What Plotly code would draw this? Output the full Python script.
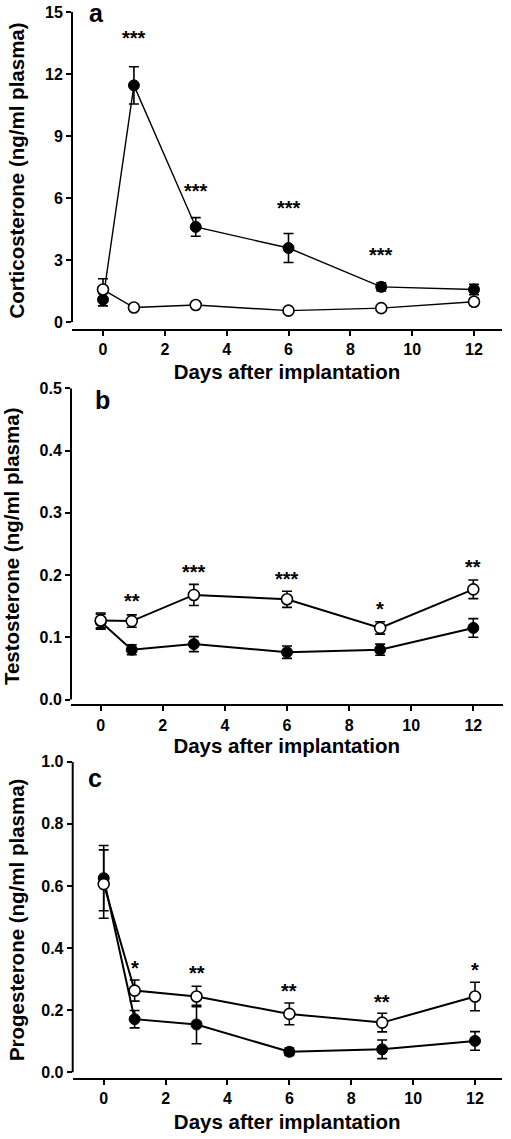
import plotly.graph_objects as go

# ---------------- data ----------------
days = [0, 1, 3, 6, 9, 12]

cort_treated = [1.08, 11.45, 4.6, 3.58, 1.7, 1.57]
cort_treated_err = [0.3, 0.9, 0.45, 0.7, 0.2, 0.25]
cort_control = [1.57, 0.7, 0.82, 0.55, 0.67, 0.98]
cort_control_err = [0.52, 0.08, 0.1, 0.08, 0.08, 0.15]
cort_sig_days = [1, 3, 6, 9]
cort_sig_labels = ["***", "***", "***", "***"]
cort_sig_y = [13.9, 6.5, 5.65, 3.4]

testo_treated = [0.125, 0.080, 0.089, 0.076, 0.080, 0.115]
testo_treated_err = [0.012, 0.008, 0.012, 0.010, 0.009, 0.015]
testo_control = [0.127, 0.126, 0.168, 0.161, 0.115, 0.177]
testo_control_err = [0.012, 0.010, 0.017, 0.013, 0.010, 0.015]
testo_sig_days = [1, 3, 6, 9, 12]
testo_sig_labels = ["**", "***", "***", "*", "**"]
testo_sig_y = [0.163, 0.21, 0.1985, 0.151, 0.218]

prog_treated = [0.625, 0.171, 0.154, 0.066, 0.074, 0.101]
prog_treated_err = [0.105, 0.028, 0.062, 0.012, 0.030, 0.030]
prog_control = [0.606, 0.263, 0.244, 0.188, 0.160, 0.244]
prog_control_err = [0.110, 0.034, 0.033, 0.035, 0.030, 0.046]
prog_sig_days = [1, 3, 6, 9, 12]
prog_sig_labels = ["*", "**", "**", "**", "*"]
prog_sig_y = [0.344, 0.329, 0.271, 0.237, 0.338]

x_ticks = [0, 2, 4, 6, 8, 10, 12]
x_title = "Days after implantation"

panels = [
    dict(letter="a", ytitle="Corticosterone (ng/ml plasma)",
         treated=cort_treated, treated_err=cort_treated_err,
         control=cort_control, control_err=cort_control_err,
         sig_days=cort_sig_days, sig_labels=cort_sig_labels, sig_y=cort_sig_y,
         ytop=15, ytick=3, yfmt="d"),
    dict(letter="b", ytitle="Testosterone (ng/ml plasma)",
         treated=testo_treated, treated_err=testo_treated_err,
         control=testo_control, control_err=testo_control_err,
         sig_days=testo_sig_days, sig_labels=testo_sig_labels, sig_y=testo_sig_y,
         ytop=0.5, ytick=0.1, yfmt=".1f"),
    dict(letter="c", ytitle="Progesterone (ng/ml plasma)",
         treated=prog_treated, treated_err=prog_treated_err,
         control=prog_control, control_err=prog_control_err,
         sig_days=prog_sig_days, sig_labels=prog_sig_labels, sig_y=prog_sig_y,
         ytop=1.0, ytick=0.2, yfmt=".1f"),
]

# ---------------- layout geometry (pixels) ----------------
W, H = 511, 1139
geom = [
    dict(left=72, right=502, x0=103, x12=474, top=12, zero=322, xline=329, lw=1.4,
         lab=(96, 12), ystand=14, xstand=7),
    dict(left=71, right=502.5, x0=100.7, x12=473.3, top=388.3, zero=699.5, xline=704.3, lw=2.0,
         lab=(102, 401.5), ystand=14, xstand=6),
    dict(left=72.7, right=501.7, x0=103.7, x12=475, top=761.7, zero=1072.3, xline=1078, lw=2.0,
         lab=(95, 780), ystand=11, xstand=8),
]

FONT = "Liberation Sans, Arial, Helvetica, sans-serif"
BOLD = dict(family=FONT, color="black", weight="bold")
TICK_SIZE = 16
TITLE_SIZE = 20.5
STAR_SIZE = 20
LETTER_SIZE = 25

fig = go.Figure()
layout = dict(
    template="none",
    width=W, height=H, margin=dict(l=0, r=0, t=0, b=0, autoexpand=False),
    paper_bgcolor="white", plot_bgcolor="white", showlegend=False,
    font=dict(family=FONT, color="black"),
)
annotations = []
shapes = []

for i, (p, g) in enumerate(zip(panels, geom)):
    n = "" if i == 0 else str(i + 1)
    xa, ya = "x" + n, "y" + n
    sx = (g["x12"] - g["x0"]) / 12.0
    xr = [(g["left"] - g["x0"]) / sx, (g["right"] - g["x0"]) / sx]
    sy = (g["zero"] - g["top"]) / p["ytop"]
    yr = [-(g["xline"] - g["zero"]) / sy, p["ytop"]]
    layout["xaxis" + n] = dict(
        domain=[g["left"] / W, g["right"] / W], range=xr, anchor=ya, automargin=False,
        tickmode="array", tickvals=x_ticks, ticks="outside", ticklen=5, tickwidth=2,
        tickcolor="black", showline=True, linewidth=2, linecolor="black",
        showgrid=False, zeroline=False,
        tickfont=dict(size=TICK_SIZE, **BOLD),
        title=dict(text=x_title, font=dict(size=TITLE_SIZE, **BOLD), standoff=g["xstand"]),
    )
    layout["yaxis" + n] = dict(
        domain=[1 - g["xline"] / H, 1 - g["top"] / H], range=yr, anchor=xa, automargin=False,
        tickmode="linear", tick0=0, dtick=p["ytick"], tickformat=p["yfmt"],
        ticks="outside", ticklen=5, tickwidth=2, tickcolor="black",
        showline=False, showgrid=False, zeroline=False,
        tickfont=dict(size=TICK_SIZE, **BOLD),
        title=dict(text=p["ytitle"], font=dict(size=TITLE_SIZE, **BOLD), standoff=g["ystand"]),
    )
    shapes.append(dict(type="line", xref=xa + " domain", yref=ya, x0=0, x1=0,
                       y0=0, y1=p["ytop"], line=dict(color="black", width=2)))

    err_style = dict(type="data", color="black", thickness=1.6, width=5)
    fig.add_trace(go.Scatter(
        x=days, y=p["treated"], xaxis=xa, yaxis=ya, mode="lines+markers",
        line=dict(color="black", width=g["lw"]),
        marker=dict(symbol="circle", size=11, color="black", line=dict(color="black", width=1)),
        error_y=dict(array=p["treated_err"], **err_style), name="treated",
    ))
    fig.add_trace(go.Scatter(
        x=days, y=p["control"], xaxis=xa, yaxis=ya, mode="lines+markers",
        line=dict(color="black", width=g["lw"]),
        marker=dict(symbol="circle", size=11, color="white", line=dict(color="black", width=1.6)),
        error_y=dict(array=p["control_err"], **err_style), name="control",
    ))
    for d, t, yv in zip(p["sig_days"], p["sig_labels"], p["sig_y"]):
        annotations.append(dict(x=d, y=yv, xref=xa, yref=ya, text=t, showarrow=False,
                                xanchor="center", yanchor="middle", yshift=-3,
                                font=dict(size=STAR_SIZE, **BOLD)))
    if i == 0:
        # keep the letter box inside the page
        annotations.append(dict(x=g["lab"][0] / W, y=1, xref="paper", yref="paper",
                                text=p["letter"], showarrow=False, xanchor="center",
                                yanchor="top", borderpad=0, yshift=2,
                                font=dict(size=LETTER_SIZE, **BOLD)))
    else:
        annotations.append(dict(x=g["lab"][0] / W, y=1 - g["lab"][1] / H, xref="paper",
                                yref="paper", text=p["letter"], showarrow=False,
                                xanchor="center", yanchor="middle", yshift=2,
                                font=dict(size=LETTER_SIZE, **BOLD)))

layout["annotations"] = annotations
layout["shapes"] = shapes
fig.update_layout(**layout)
fig.write_html("out.html", config={"displayModeBar": False},
               post_script="document.body.style.margin='0';")
